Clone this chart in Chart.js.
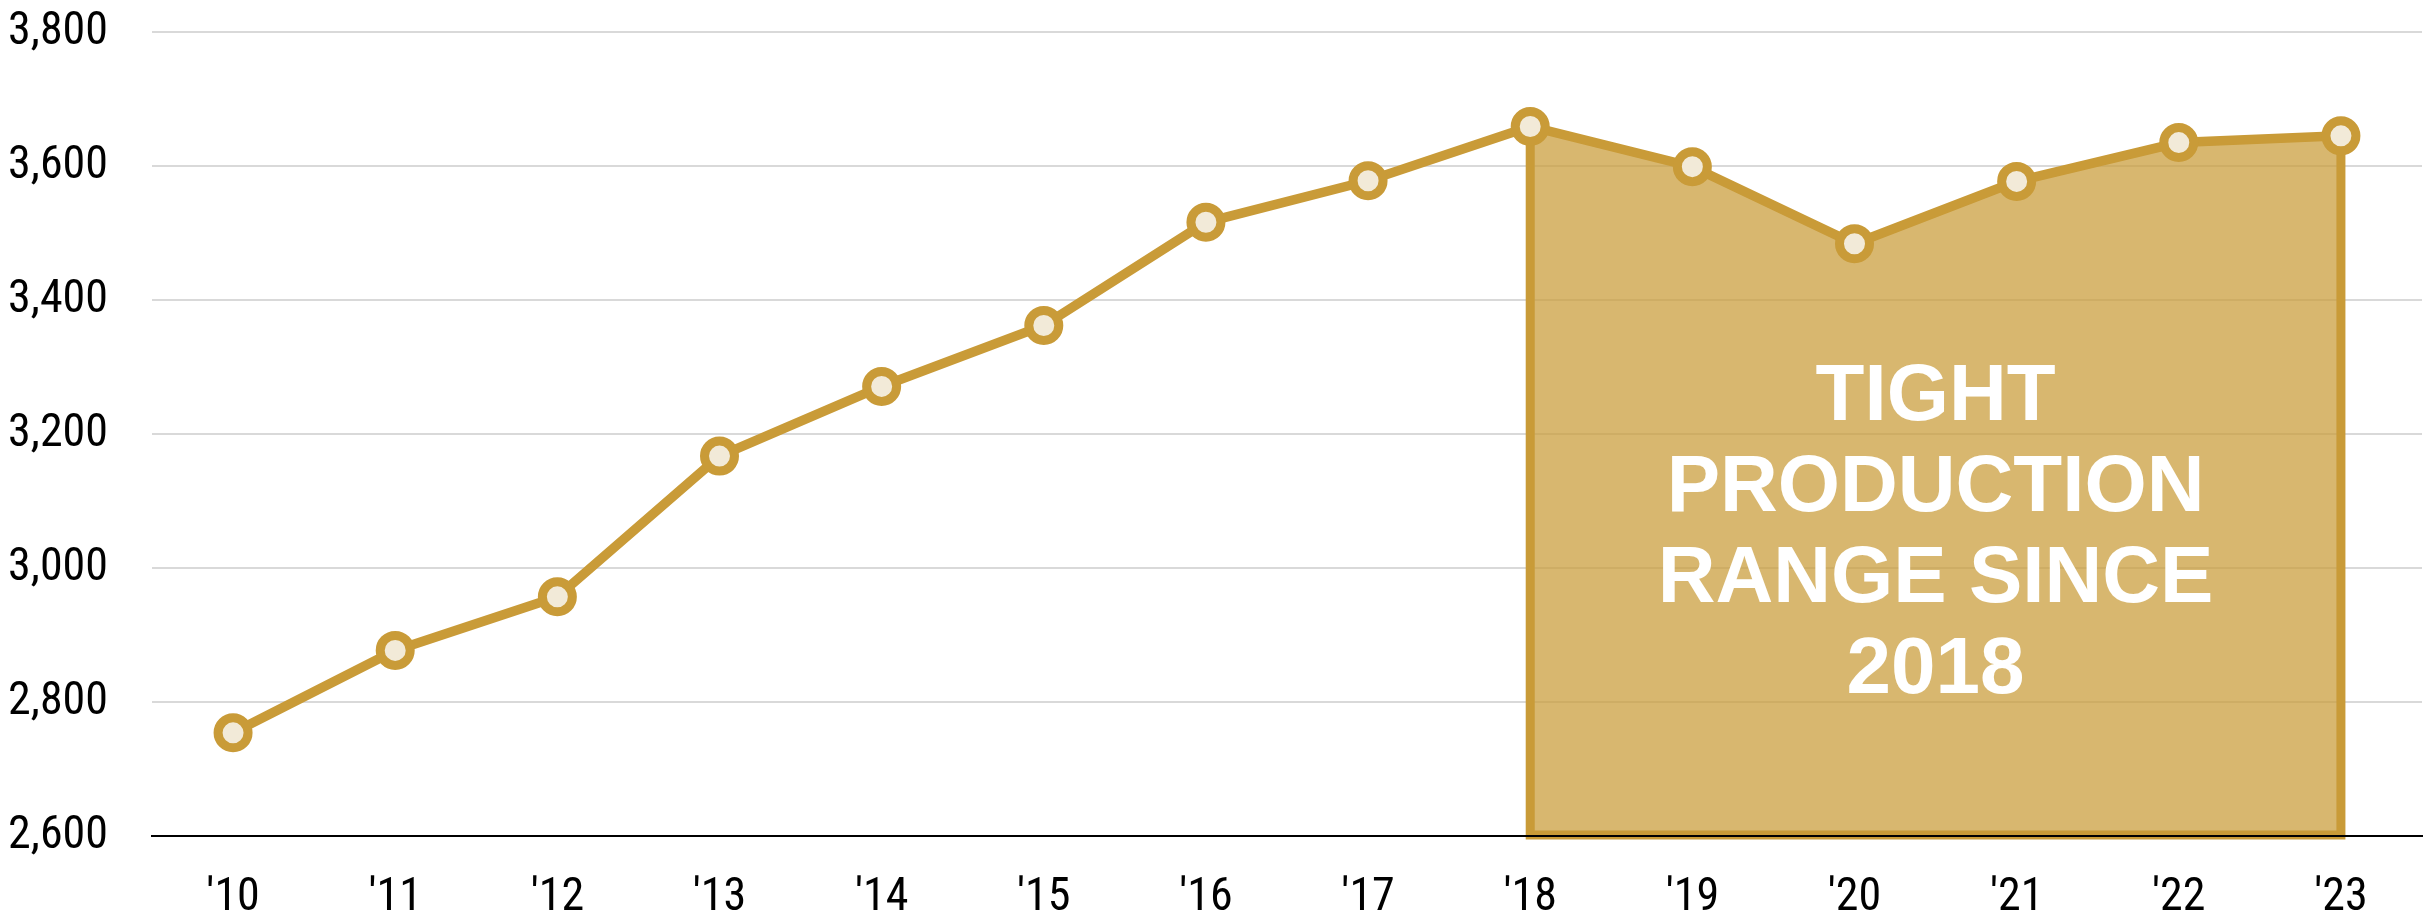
<!DOCTYPE html>
<html>
<head>
<meta charset="utf-8">
<script src="https://cdn.jsdelivr.net/npm/chart.js@4/dist/chart.umd.min.js"></script>
<style>
  html, body { margin: 0; padding: 0; background: #fff; overflow: hidden; }
  #wrap { width: 2432px; height: 916px; position: relative; }
  #prod-chart { display: block; }
</style>
</head>
<body>
<div id="wrap"><canvas id="prod-chart"></canvas></div>
<script>
// Yearly production, 2010 - 2023
var years = ["'10","'11","'12","'13","'14","'15","'16","'17","'18","'19","'20","'21","'22","'23"];
var production = [2754, 2877, 2957, 3167, 3271, 3362, 3516, 3578, 3659, 3599, 3484, 3577, 3635, 3645];

// y axis
var yMin = 2600;
var yMax = 3800;
var yStep = 200;

// shaded range ('18 -> '23) and the text written inside it
var bandFrom = "'18";
var bandTo = "'23";
var bandNote = ['TIGHT', 'PRODUCTION', 'RANGE SINCE', '2018'];
var bandNoteValue = 3050;   // vertical centre of the note, in axis units

var GOLD = 'rgb(201,155,56)';
var GOLD_FILL = 'rgba(201,155,56,0.72)';
var CREAM = 'rgb(242,234,216)';
var axisFont = "'Liberation Sans Narrow', 'Arial Narrow', 'Roboto Condensed', 'Liberation Sans', sans-serif";

// Fills the area under the line between bandFrom and bandTo,
// outlines it and writes the note on top.
var rangeBand = {
  id: 'rangeBand',
  beforeDatasetsDraw(chart) {
    const ctx = chart.ctx;
    const x = chart.scales.x, y = chart.scales.y;
    const i0 = years.indexOf(bandFrom), i1 = years.indexOf(bandTo);
    const bottom = y.getPixelForValue(yMin);
    const xs = [], ys = [];
    for (let i = i0; i <= i1; i++) {
      xs.push(x.getPixelForValue(i));
      ys.push(y.getPixelForValue(production[i]));
    }
    ctx.save();
    ctx.beginPath();
    ctx.moveTo(xs[0], bottom);
    for (let k = 0; k < xs.length; k++) ctx.lineTo(xs[k], ys[k]);
    ctx.lineTo(xs[xs.length-1], bottom);
    ctx.closePath();
    ctx.fillStyle = GOLD_FILL;
    ctx.fill();

    ctx.beginPath();
    ctx.moveTo(xs[0], ys[0]);
    ctx.lineTo(xs[0], bottom - 1);
    ctx.lineTo(xs[xs.length-1], bottom - 1);
    ctx.lineTo(xs[xs.length-1], ys[ys.length-1]);
    ctx.lineWidth = 9;
    ctx.lineJoin = 'miter';
    ctx.strokeStyle = GOLD;
    ctx.stroke();

    // black base line stays visible over the band
    ctx.beginPath();
    ctx.moveTo(chart.chartArea.left, bottom);
    ctx.lineTo(chart.chartArea.right, bottom);
    ctx.lineWidth = 2;
    ctx.strokeStyle = '#000';
    ctx.stroke();
    ctx.restore();
  },
  afterDatasetsDraw(chart) {
    const ctx = chart.ctx;
    const x = chart.scales.x, y = chart.scales.y;
    const cx = (x.getPixelForValue(years.indexOf(bandFrom)) + x.getPixelForValue(years.indexOf(bandTo))) / 2;
    const cy = y.getPixelForValue(bandNoteValue);
    const lh = 91;
    ctx.save();
    ctx.font = "bold 80px 'Liberation Sans', Arial, sans-serif";
    ctx.fillStyle = '#fff';
    ctx.textAlign = 'center';
    ctx.textBaseline = 'middle';
    bandNote.forEach((line, k) => {
      ctx.fillText(line, cx, cy + (k - (bandNote.length - 1) / 2) * lh);
    });
    ctx.restore();
  }
};

var ctx = document.getElementById('prod-chart').getContext('2d');
var chart = new Chart(ctx, {
  type: 'line',
  data: {
    labels: years,
    datasets: [{
      data: production,
      borderColor: GOLD,
      borderWidth: 9.5,
      fill: false,
      tension: 0,
      pointRadius: 15,
      pointBorderWidth: 9,
      pointBackgroundColor: CREAM,
      pointBorderColor: GOLD
    }]
  },
  options: {
    responsive: true,
    maintainAspectRatio: false,
    animation: false,
    layout: {
      autoPadding: false,
      padding: { top: 0, right: 10, left: 0, bottom: 0 }
    },
    plugins: {
      legend: { display: false },
      tooltip: { enabled: false }
    },
    scales: {
      x: {
        offset: true,
        grid: { display: true, color: 'rgba(0,0,0,0)', drawTicks: false },
        border: { display: true, color: '#000', width: 2 },
        ticks: {
          color: '#000',
          padding: 35,
          maxRotation: 0,
          font: { family: axisFont, size: 46 }
        },
        afterFit(scale) {
          scale.height = 80;
          scale.paddingRight = 0;
        }
      },
      y: {
        min: yMin,
        max: yMax,
        grid: { color: '#d9d9d9', lineWidth: 2, drawTicks: false },
        border: { display: false },
        ticks: {
          stepSize: yStep,
          color: '#000',
          padding: 44,
          font: { family: axisFont, size: 46 },
          callback: (v) => v.toLocaleString('en-US')
        },
        afterFit(scale) {
          scale.width = 152;
          scale.paddingTop = 32;
        }
      }
    }
  },
  plugins: [rangeBand]
});
</script>
</body>
</html>
